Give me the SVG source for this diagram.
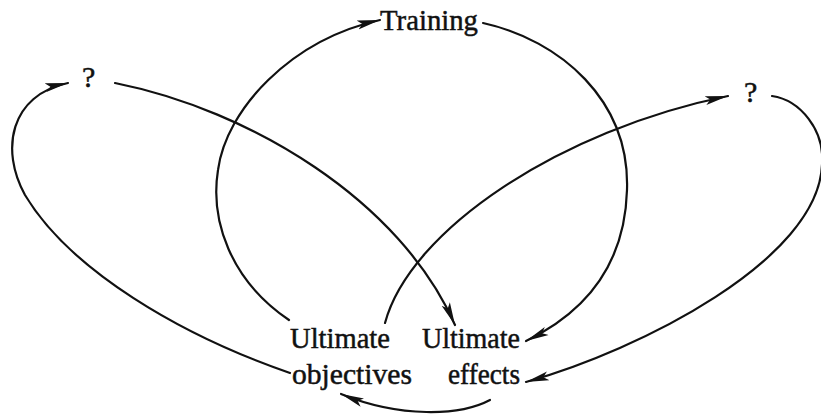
<svg xmlns="http://www.w3.org/2000/svg" width="821" height="419" viewBox="0 0 821 419">
<style>
.lbl{font-family:"Liberation Serif","Times New Roman",serif;font-size:30px;fill:#111;stroke:#111;stroke-width:0.5;}
.c{fill:none;stroke:#111;stroke-width:2.2;stroke-linecap:round;marker-end:url(#ah);}
</style>
<defs>
<marker id="ah" markerUnits="userSpaceOnUse" markerWidth="26" markerHeight="12" refX="23" refY="5" orient="auto">
<path d="M0,0.5 L23,5 L0,9.5 L5,5 z" fill="#111"/>
</marker>
</defs>
<rect width="821" height="419" fill="#fff"/>
<g id="connectors">
<path class="c" d="M289 320 C230 280 210 220 218 170 C226 110 290 40 380 20"/>
<path class="c" d="M483 23 C560 40 630 100 627 190 C625 260 590 310 526 341"/>
<path class="c" d="M115 83 C250 110 400 200 455 325"/>
<path class="c" d="M385 323 C410 230 560 130 728 96"/>
<path class="c" d="M772 96 C800 100 825 130 822 165 C818 260 640 350 526 382"/>
<path class="c" d="M290 373 C180 335 70 270 25 195 C0 150 10 95 68 83"/>
<path class="c" d="M490 400 C460 416 400 418 341 394"/>
</g>
<g id="training"><text class="lbl" x="380" y="30" textLength="98" lengthAdjust="spacingAndGlyphs">Training</text></g>
<g id="q-left"><text class="lbl" x="82" y="87">?</text></g>
<g id="q-right"><text class="lbl" x="744" y="102">?</text></g>
<g id="ultimate-objectives">
<text class="lbl" x="290" y="348" textLength="100" lengthAdjust="spacingAndGlyphs">Ultimate</text>
<text class="lbl" x="292" y="384" textLength="120" lengthAdjust="spacingAndGlyphs">objectives</text>
</g>
<g id="ultimate-effects">
<text class="lbl" x="422" y="348" textLength="98" lengthAdjust="spacingAndGlyphs">Ultimate</text>
<text class="lbl" x="448" y="384" textLength="72" lengthAdjust="spacingAndGlyphs">effects</text>
</g>
</svg>
